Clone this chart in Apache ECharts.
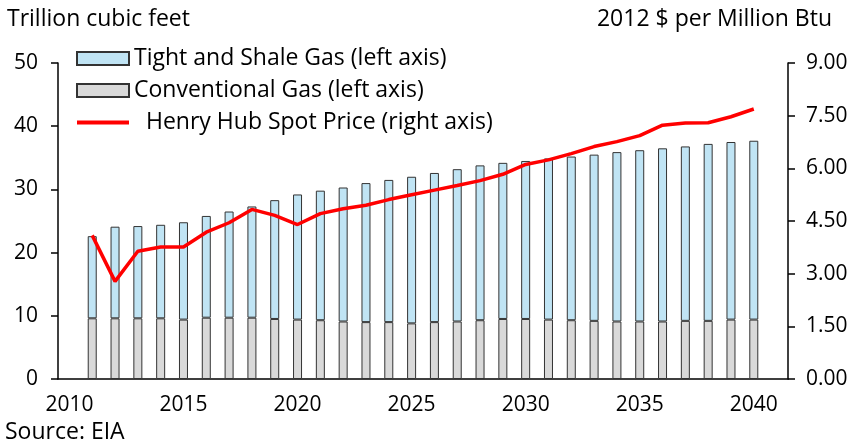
<!DOCTYPE html>
<html>

<head>
    <meta charset="UTF-8">
    <title>Natural gas production and Henry Hub price</title>
    <script src="https://cdn.jsdelivr.net/npm/echarts@6/dist/echarts.min.js"></script>
</head>

<body style="margin:0">
    <div id="main" style="width: 855px; height: 444px;"></div>

    <script>
        // years on the axis (2010 and 2041 are empty slots, like the excel chart)
        var years = [];
        for (var y = 2010; y <= 2041; y++) years.push(String(y));

        // Trillion cubic feet, 2011..2040
        var conventional = [null,
            9.6, 9.6, 9.6, 9.6, 9.4, 9.7, 9.7, 9.7, 9.5, 9.4,
            9.3, 9.1, 9.0, 9.0, 8.8, 9.0, 9.1, 9.3, 9.5, 9.5,
            9.4, 9.3, 9.2, 9.1, 9.1, 9.1, 9.2, 9.2, 9.4, 9.4,
            null];
        var totalGas = [null,
            22.6, 24.1, 24.2, 24.4, 24.8, 25.8, 26.5, 27.3, 28.3, 29.2,
            29.8, 30.3, 31.0, 31.5, 32.0, 32.6, 33.2, 33.8, 34.2, 34.5,
            34.9, 35.2, 35.5, 35.9, 36.2, 36.5, 36.8, 37.2, 37.5, 37.7,
            null];
        // 2012 $ per Million Btu
        var henryHub = [null,
            4.09, 2.78, 3.64, 3.76, 3.76, 4.18, 4.45, 4.83, 4.66, 4.40,
            4.71, 4.85, 4.95, 5.11, 5.25, 5.38, 5.51, 5.65, 5.83, 6.11,
            6.24, 6.42, 6.62, 6.76, 6.93, 7.23, 7.29, 7.30, 7.47, 7.69,
            null];

        var tightShale = totalGas.map(function (v, i) {
            return v == null ? null : +(v - conventional[i]).toFixed(2);
        });

        var nameTight = 'Tight and Shale Gas (left axis)';
        var nameConv = 'Conventional Gas (left axis)';
        var nameHH = '  Henry Hub Spot Price (right axis)';

        var font = '"Open Sans", Lato, sans-serif';
        var titleText = { fontFamily: font, fontSize: 23, fontWeight: 'normal', color: '#000' };

        var myChart = echarts.init(document.getElementById('main'));

        var option = {
            backgroundColor: '#fff',
            animation: false,
            textStyle: { fontFamily: font, color: '#000' },
            title: [
                { text: 'Trillion cubic feet', left: 2, top: 3, textStyle: titleText },
                { text: '2012 $ per Million Btu', right: 18, top: 3, textStyle: titleText },
                { text: 'Source: EIA', left: 0, top: 416, textStyle: titleText }
            ],
            legend: {
                orient: 'vertical',
                left: 70,
                top: 42,
                itemWidth: 52,
                itemHeight: 13,
                itemGap: 9,
                data: [
                    { name: nameTight, icon: 'rect' },
                    { name: nameConv, icon: 'rect' },
                    { name: nameHH, itemStyle: { opacity: 0 }, lineStyle: { width: 4 } }
                ],
                textStyle: { fontFamily: font, fontSize: 23, color: '#000', lineHeight: 23 }
            },
            grid: { left: 58, right: 67, top: 63, bottom: 65 },
            xAxis: {
                type: 'category',
                data: years,
                boundaryGap: true,
                axisLine: { lineStyle: { color: '#000', width: 1.5 } },
                axisTick: { interval: 4, length: 6, lineStyle: { color: '#000', width: 1.5 } },
                axisLabel: { interval: 4, fontSize: 21, color: '#000', margin: 16 }
            },
            yAxis: [
                {
                    type: 'value', min: 0, max: 50, interval: 10,
                    splitLine: { show: false },
                    axisLine: { show: true, lineStyle: { color: '#000', width: 1.5 } },
                    axisTick: { show: true, length: 7, lineStyle: { color: '#000', width: 1.5 } },
                    axisLabel: { fontSize: 21, color: '#000', margin: 20 }
                },
                {
                    type: 'value', min: 0, max: 9, interval: 1.5,
                    position: 'right',
                    splitLine: { show: false },
                    axisLine: { show: true, lineStyle: { color: '#000', width: 1.5 } },
                    axisTick: { show: true, length: 7, lineStyle: { color: '#000', width: 1.5 } },
                    axisLabel: {
                        fontSize: 21, color: '#000', margin: 18,
                        formatter: function (v) { return v.toFixed(2); }
                    }
                }
            ],
            series: [
                {
                    name: nameConv,
                    type: 'bar',
                    stack: 'gas',
                    barWidth: 9,
                    data: conventional,
                    itemStyle: { color: '#d9d9d9', borderColor: '#333', borderWidth: 1 }
                },
                {
                    name: nameTight,
                    type: 'bar',
                    stack: 'gas',
                    barWidth: 9,
                    data: tightShale,
                    itemStyle: { color: '#c0e4f4', borderColor: '#333', borderWidth: 1 }
                },
                {
                    name: nameHH,
                    type: 'line',
                    yAxisIndex: 1,
                    symbol: 'none',
                    data: henryHub,
                    lineStyle: { color: '#ff0000', width: 3.5 },
                    itemStyle: { color: '#ff0000' }
                }
            ]
        };

        myChart.setOption(option);
    </script>
</body>

</html>
